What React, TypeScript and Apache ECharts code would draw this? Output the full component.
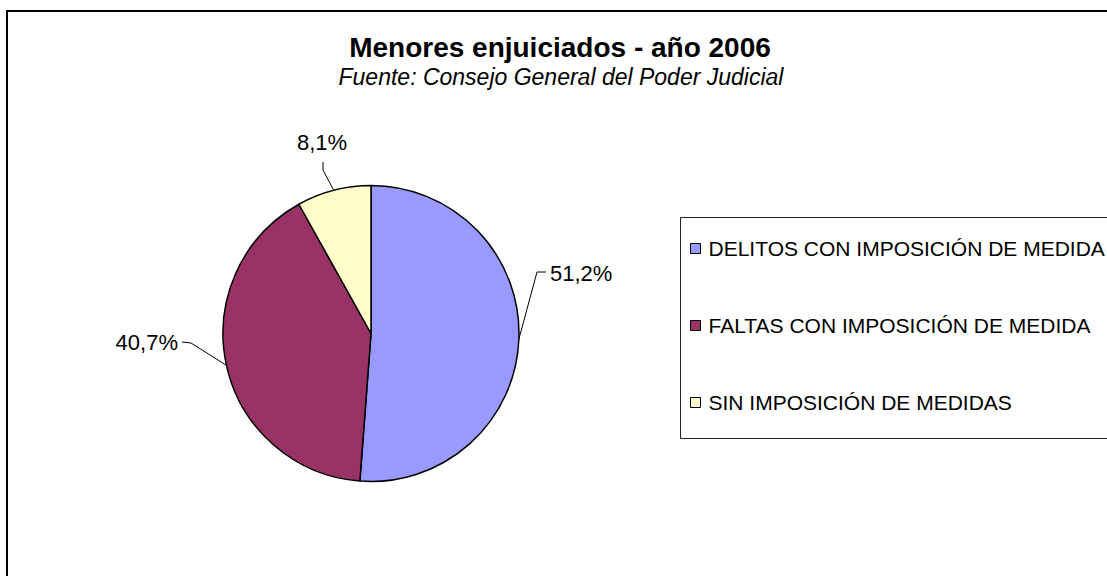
import React, { useEffect, useRef } from "react";
import * as echarts from "echarts";

const categories = [
  "DELITOS CON IMPOSICIÓN DE MEDIDA",
  "FALTAS CON IMPOSICIÓN DE MEDIDA",
  "SIN IMPOSICIÓN DE MEDIDAS",
];
const values = [51.2, 40.7, 8.1];
const colors = ["#9999FF", "#993366", "#FFFFCC"];
const titleText = "Menores enjuiciados - año 2006";
const subtitleText = "Fuente: Consejo General del Poder Judicial";

const FONT = "'Liberation Sans', Arial, Helvetica, sans-serif";

// label anchor positions (layout only)
const labelPos = [
  { x: 550, y: 273, align: "left" },
  { x: 178, y: 342, align: "right" },
  { x: 322, y: 142, align: "center" },
];

export default function App() {
  const ref = useRef<HTMLDivElement>(null);
  useEffect(() => {
    if (!ref.current) return;
    const chart = echarts.init(ref.current, null, { renderer: "svg" });
    const fmt = (v: number) => v.toFixed(1).replace(".", ",") + "%";
    chart.setOption({
      animation: false,
      backgroundColor: "#ffffff",
      graphic: [
        {
          type: "rect",
          shape: { x: 7, y: 11, width: 1200, height: 700 },
          style: { fill: "none", stroke: "#000", lineWidth: 2 },
          silent: true,
        },
        {
          type: "rect",
          shape: { x: 680.5, y: 217.5, width: 600, height: 221 },
          style: { fill: "none", stroke: "#222", lineWidth: 1 },
          silent: true,
        },
        {
          type: "text",
          style: {
            text: titleText,
            x: 560,
            y: 47,
            align: "center",
            verticalAlign: "middle",
            textAlign: "center",
            textVerticalAlign: "middle",
            fontSize: 28,
            fontWeight: "bold",
            fontFamily: FONT,
            fill: "#000",
          },
        },
        {
          type: "text",
          style: {
            text: subtitleText,
            x: 561,
            y: 77,
            align: "center",
            verticalAlign: "middle",
            textAlign: "center",
            textVerticalAlign: "middle",
            fontSize: 23,
            fontStyle: "italic",
            fontFamily: FONT,
            fill: "#000",
          },
        },
      ],
      legend: {
        data: categories,
        orient: "vertical",
        left: 690,
        top: 238,
        padding: 0,
        itemWidth: 10,
        itemHeight: 10,
        itemGap: 56,
        icon: "rect",
        selectedMode: false,
        itemStyle: { borderColor: "#000", borderWidth: 1 },
        textStyle: {
          fontSize: 21,
          lineHeight: 21,
          fontFamily: FONT,
          color: "#000",
          padding: [0, 0, 0, 3],
        },
      },
      series: [
        {
          type: "pie",
          center: [371, 333.5],
          radius: 148,
          startAngle: 90,
          clockwise: true,
          silent: true,
          avoidLabelOverlap: false,
          itemStyle: { borderColor: "#000", borderWidth: 1.5 },
          label: {
            show: true,
            position: "outside",
            formatter: (p: any) => fmt(p.value),
            fontSize: 22,
            fontFamily: FONT,
            color: "#000",
          },
          labelLine: {
            show: true,
            length: 15,
            length2: 10,
            lineStyle: { color: "#000", width: 1 },
          },
          labelLayout: (params: any) => {
            const cfg = labelPos[params.dataIndex];
            const pts = params.labelLinePoints;
            const start = pts && pts[0] ? pts[0] : [cfg.x, cfg.y];
            let bend: number[];
            let end: number[];
            if (cfg.align === "left") {
              bend = [cfg.x - 13, cfg.y - 1];
              end = [cfg.x - 4, cfg.y - 1];
            } else if (cfg.align === "right") {
              bend = [cfg.x + 13, cfg.y + 1];
              end = [cfg.x + 4, cfg.y];
            } else {
              bend = [cfg.x + 1, cfg.y + 28];
              end = [cfg.x + 1, cfg.y + 20];
            }
            return {
              x: cfg.x,
              y: cfg.y,
              align: cfg.align,
              verticalAlign: "middle",
              labelLinePoints: [start, bend, end],
            };
          },
          data: categories.map((name, i) => ({
            name,
            value: values[i],
            itemStyle: { color: colors[i] },
          })),
        },
      ],
    });
    return () => chart.dispose();
  }, []);
  return (
    <div
      ref={ref}
      style={{ position: "fixed", left: 0, top: 0, width: 1107, height: 576 }}
    />
  );
}
